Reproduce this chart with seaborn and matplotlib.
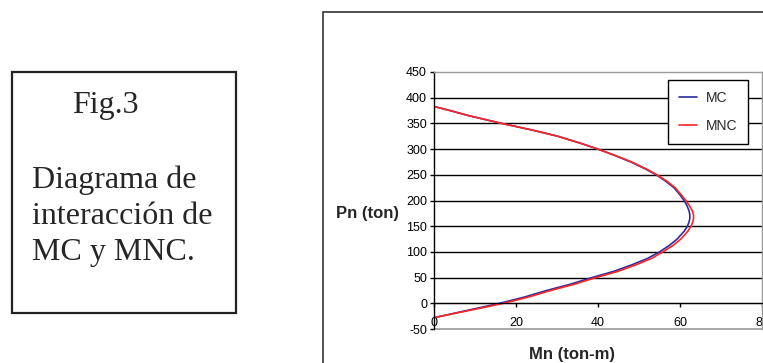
import numpy as np
import pandas as pd
import matplotlib.pyplot as plt
from matplotlib.patches import Rectangle
import seaborn as sns

# datos (Pn en ton, Mn en ton-m)
pn = [-28, -10, 0, 12, 25, 37, 50, 62, 75, 87, 100, 112, 125, 140, 150, 158, 165, 172,
      180, 190, 200, 212, 225, 237, 250, 262, 275, 287, 300, 312, 325, 337, 350, 365, 375, 383]
mn_mc = [0, 10.3, 16, 22, 27.5, 33.2, 38.5, 43.8, 48.3, 52.0, 55.0, 57.3, 59.3, 61.0, 61.8, 62.2, 62.4, 62.4,
         62.2, 61.7, 61.0, 59.9, 58.5, 56.6, 54.2, 51.4, 48.0, 44.3, 40.0, 35.5, 30.2, 24.0, 16.5, 8.5, 3.9, 0]
mn_mnc = [0, 11, 17, 23, 28.5, 34.2, 39.5, 44.8, 49.3, 53.0, 55.8, 58.2, 60.2, 61.9, 62.7, 63.1, 63.3, 63.3,
          63.0, 62.3, 61.4, 60.2, 58.8, 56.9, 54.4, 51.6, 48.2, 44.4, 40.0, 35.5, 30.2, 24.0, 16.5, 8.5, 3.9, 0]

x_ticks = [0, 20, 40, 60, 80]
y_ticks = [-50, 0, 50, 100, 150, 200, 250, 300, 350, 400, 450]

df_mc = pd.DataFrame({'Mn': mn_mc, 'Pn': pn})
df_mnc = pd.DataFrame({'Mn': mn_mnc, 'Pn': pn})

sns.set_style('white')
plt.rcParams['font.family'] = ['Liberation Sans', 'DejaVu Sans']
plt.rcParams['axes.unicode_minus'] = False

W, H = 763, 363
fig = plt.figure(figsize=(W / 100, H / 100), dpi=100)

def fx(px):
    return px / W

def fy(py):
    return 1 - py / H

# ---------------------------------------------------------------
# recuadro de texto a la izquierda
# ---------------------------------------------------------------
fig.patches.append(Rectangle((fx(12), fy(313)), fx(236) - fx(12), fy(72) - fy(313),
                             transform=fig.transFigure, fill=False, ec='#222222', lw=1.6))
serif = ['Liberation Serif', 'DejaVu Serif']
fig.text(fx(72), fy(113), 'Fig.3', family=serif, fontsize=23, va='baseline')
for txt, yb in [('Diagrama de', 188), ('interacción de', 224), ('MC y MNC.', 260)]:
    fig.text(fx(32), fy(yb), txt, family=serif, fontsize=23, va='baseline')

# marco del grafico
fig.patches.append(Rectangle((fx(323), fy(380)), fx(800) - fx(323), fy(12) - fy(380),
                             transform=fig.transFigure, fill=False, ec='#333333', lw=1.2))

# ---------------------------------------------------------------
# area de trazado
# ---------------------------------------------------------------
ax = fig.add_axes([fx(434), fy(329), fx(762) - fx(434), fy(72) - fy(329)])
ax.set_facecolor('white')

sns.lineplot(data=df_mc, x='Mn', y='Pn', sort=False, estimator=None, color='#2b2b9e',
             lw=1.2, label='MC', ax=ax)
sns.lineplot(data=df_mnc, x='Mn', y='Pn', sort=False, estimator=None, color='#ff2424',
             lw=1.2, label='MNC', ax=ax)

ax.set_xlim(0, 80)
ax.set_ylim(-50, 450)
ax.set_xticks(x_ticks)
ax.set_yticks(y_ticks)
ax.set_xlabel('')
ax.set_ylabel('')

for yv in y_ticks[1:-1]:
    ax.axhline(yv, color='black', lw=1.0, zorder=0.5)

for s in ['top', 'right']:
    ax.spines[s].set_color('#9a9a9a')
    ax.spines[s].set_linewidth(1.0)
ax.spines['left'].set_color('black')
ax.spines['left'].set_linewidth(1.0)
ax.spines['bottom'].set_position(('data', 0))
ax.spines['bottom'].set_color('black')
ax.axhline(-50, color='#9a9a9a', lw=1.2, clip_on=False)

ax.tick_params(axis='x', direction='out', length=3, width=1, pad=7, labelsize=9, colors='black')
ax.tick_params(axis='y', direction='out', length=3, width=1, pad=2, labelsize=9, colors='black')
ax.tick_params(bottom=True, left=True)

leg = ax.legend(loc='upper right', bbox_to_anchor=(fx(748), fy(80)), bbox_transform=fig.transFigure,
                fontsize=10, frameon=True, fancybox=False, handlelength=1.3, handletextpad=0.6,
                labelspacing=1.0, borderpad=0.8, borderaxespad=0)
leg.get_frame().set_edgecolor('black')
leg.get_frame().set_linewidth(1.0)
leg.get_frame().set_alpha(1)

fig.text(fx(336), fy(213), 'Pn (ton)', fontsize=12, fontweight='bold', va='center', ha='left')
fig.text(fx(572), fy(355), 'Mn (ton-m)', fontsize=12, fontweight='bold', va='center', ha='center')

plt.savefig('out.png', dpi=100)
